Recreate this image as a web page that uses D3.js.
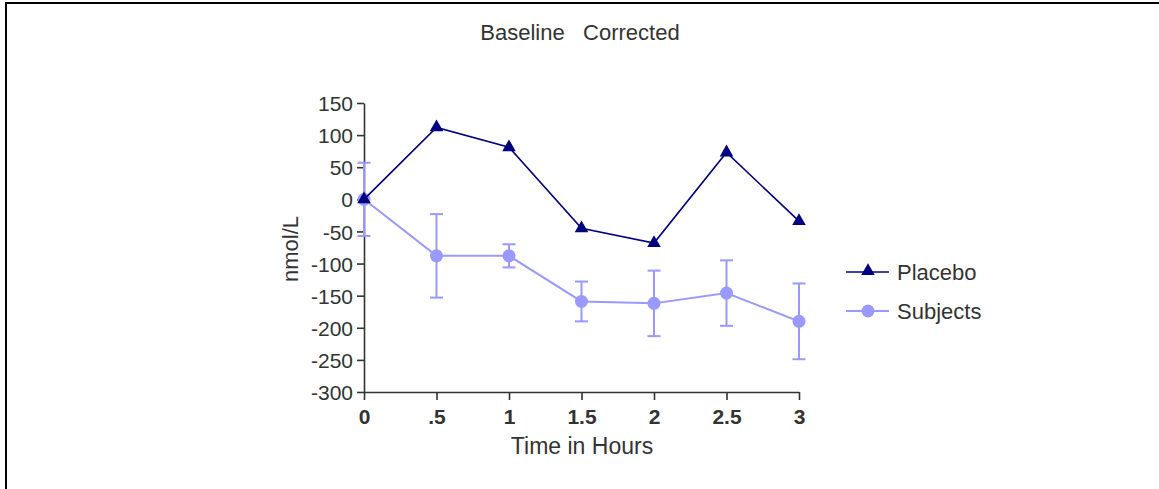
<!DOCTYPE html>
<html>
<head>
<meta charset="utf-8">
<script src="https://d3js.org/d3.v7.min.js"></script>
<style>
  body { margin: 0; background: #fff; }
  text { font-family: "Liberation Sans", Arial, sans-serif; fill: #333; }
  .axis path, .axis line { stroke: #333; stroke-width: 1.6; }
  .axis text { font-size: 21px; fill: #333; }
  .xAxis text { font-weight: bold; }
</style>
</head>
<body>
<div id="chart"></div>
<script>
const width = 1159, height = 489;
const margin = { top: 103, right: 360, bottom: 97, left: 364 };

const hours = [0, 0.5, 1, 1.5, 2, 2.5, 3];
const xTickLabels = ["0", ".5", "1", "1.5", "2", "2.5", "3"];
const yTicks = [150, 100, 50, 0, -50, -100, -150, -200, -250, -300];
const placebo = [0, 112, 81, -45, -68, 73, -34];
const subjects = [0, -88, -88, -159, -162, -146, -190];
const subjectsErr = [57, 65, 18, 31, 51, 51, 59];

const colPlacebo = "#000080", colSubjects = "#9999ff";

var svg = d3.select("#chart").append("svg")
  .attr("width", width)
  .attr("height", height);

// cornice
svg.append("path")
  .attr("d", `M6,${height} L6,3 L${width},3`)
  .attr("fill", "none")
  .attr("stroke", "#000")
  .attr("stroke-width", 2);

var x = d3.scaleLinear().domain([0, 3]).range([margin.left, width - margin.right]);
var y = d3.scaleLinear().domain([-300, 150]).range([height - margin.bottom, margin.top]);

var xAxis = d3.axisBottom(x)
  .tickValues(hours)
  .tickSize(8)
  .tickSizeOuter(0)
  .tickFormat((d, i) => xTickLabels[i]);

svg.append("g")
  .attr("class", "axis xAxis")
  .attr("transform", `translate(0, ${y(-300)})`)
  .call(xAxis)
  .call(g => g.selectAll(".tick text").attr("y", 17));

var yAxis = d3.axisLeft(y)
  .tickValues(yTicks)
  .tickSize(7)
  .tickSizeOuter(0)
  .tickFormat(d => String(d));

svg.append("g")
  .attr("class", "axis yAxis")
  .attr("transform", `translate(${x(0)}, 0)`)
  .call(yAxis)
  .call(g => g.selectAll(".tick text").attr("x", -11).attr("dy", "0.36em"));

// titoli
svg.append("text")
  .attr("x", 580).attr("y", 40)
  .attr("text-anchor", "middle")
  .attr("xml:space", "preserve")
  .style("font-size", "22px")
  .style("white-space", "pre")
  .text("Baseline   Corrected");

svg.append("text")
  .attr("x", 582).attr("y", 454)
  .attr("text-anchor", "middle")
  .style("font-size", "23px")
  .text("Time in Hours");

svg.append("text")
  .attr("transform", `translate(298, 249) rotate(-90)`)
  .attr("text-anchor", "middle")
  .style("font-size", "22px")
  .text("nmol/L");

var line = d3.line()
  .x((d, i) => x(hours[i]))
  .y(d => y(d));

// soggetti: barre d'errore, linea, punti
var errG = svg.append("g").attr("stroke", colSubjects).attr("stroke-width", 2);
subjects.forEach((v, i) => {
  var cx = x(hours[i]);
  errG.append("line").attr("x1", cx).attr("x2", cx).attr("y1", y(v + subjectsErr[i])).attr("y2", y(v - subjectsErr[i]));
  [v + subjectsErr[i], v - subjectsErr[i]].forEach(e => {
    errG.append("line").attr("x1", cx - 6.5).attr("x2", cx + 6.5).attr("y1", y(e)).attr("y2", y(e));
  });
});

svg.append("path")
  .datum(subjects)
  .attr("d", line)
  .attr("fill", "none")
  .attr("stroke", colSubjects)
  .attr("stroke-width", 2);

svg.selectAll(".subj")
  .data(subjects)
  .enter()
  .append("circle")
  .attr("class", "subj")
  .attr("cx", (d, i) => x(hours[i]))
  .attr("cy", d => y(d))
  .attr("r", 6.5)
  .attr("fill", colSubjects);

// placebo
svg.append("path")
  .datum(placebo)
  .attr("d", line)
  .attr("fill", "none")
  .attr("stroke", colPlacebo)
  .attr("stroke-width", 1.6);

var tri = d3.symbol().type(d3.symbolTriangle).size(80);

svg.selectAll(".plac")
  .data(placebo)
  .enter()
  .append("path")
  .attr("class", "plac")
  .attr("d", tri)
  .attr("transform", (d, i) => `translate(${x(hours[i])}, ${y(d)})`)
  .attr("fill", colPlacebo);

// legenda
var legend = [
  { name: "Placebo", color: colPlacebo, sym: "tri", w: 1.6 },
  { name: "Subjects", color: colSubjects, sym: "circle", w: 2 }
];

var lg = svg.selectAll(".legend")
  .data(legend)
  .enter()
  .append("g")
  .attr("class", "legend")
  .attr("transform", (d, i) => `translate(846, ${272 + i * 39})`);

lg.append("line")
  .attr("x1", 0).attr("x2", 43)
  .attr("stroke", d => d.color)
  .attr("stroke-width", d => d.w);

lg.each(function (d) {
  var g = d3.select(this);
  if (d.sym === "tri") {
    g.append("path").attr("d", tri).attr("transform", "translate(22, -1)").attr("fill", d.color);
  } else {
    g.append("circle").attr("cx", 22).attr("r", 6.5).attr("fill", d.color);
  }
});

lg.append("text")
  .attr("x", 51)
  .attr("dy", "0.36em")
  .style("font-size", "22px")
  .text(d => d.name);
</script>
</body>
</html>
